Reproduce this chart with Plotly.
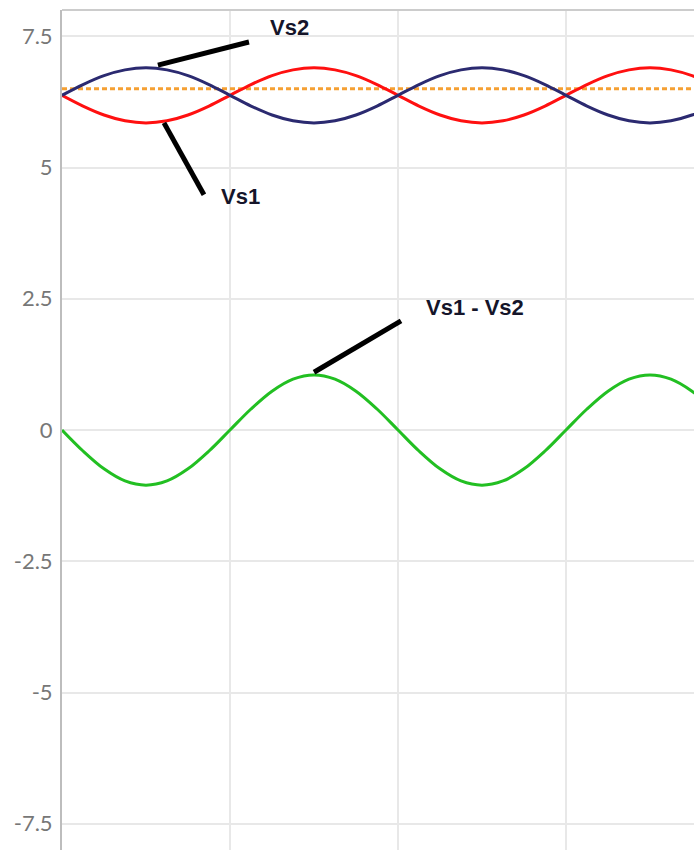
import plotly.graph_objects as go

# x positions (grid units, gridlines every 1)
x_vals = [i * 0.125 for i in range(33)]

vs1 = [6.375, 6.17, 6.00, 5.89, 5.85, 5.89, 6.00, 6.17,
       6.375, 6.58, 6.75, 6.86, 6.90, 6.86, 6.75, 6.58,
       6.375, 6.17, 6.00, 5.89, 5.85, 5.89, 6.00, 6.17,
       6.375, 6.58, 6.75, 6.86, 6.90, 6.86, 6.75, 6.58, 6.375]
vs2 = [6.375, 6.58, 6.75, 6.86, 6.90, 6.86, 6.75, 6.58,
       6.375, 6.17, 6.00, 5.89, 5.85, 5.89, 6.00, 6.17,
       6.375, 6.58, 6.75, 6.86, 6.90, 6.86, 6.75, 6.58,
       6.375, 6.17, 6.00, 5.89, 5.85, 5.89, 6.00, 6.17, 6.375]
diff = [0.0, -0.40, -0.74, -0.97, -1.05, -0.97, -0.74, -0.40,
        0.0, 0.40, 0.74, 0.97, 1.05, 0.97, 0.74, 0.40,
        0.0, -0.40, -0.74, -0.97, -1.05, -0.97, -0.74, -0.40,
        0.0, 0.40, 0.74, 0.97, 1.05, 0.97, 0.74, 0.40, 0.0]
ref_level = 6.5

y_ticks = [-7.5, -5, -2.5, 0, 2.5, 5, 7.5]
y_tick_labels = ["-7.5", "-5", "-2.5", "0", "2.5", "5", "7.5"]

fig = go.Figure()
fig.add_trace(go.Scatter(x=[x_vals[0], x_vals[-1]], y=[ref_level, ref_level], mode="lines",
                         line=dict(color="#f5a033", width=3, dash="5px,3px"), hoverinfo="skip"))
fig.add_trace(go.Scatter(x=x_vals, y=vs1, mode="lines", line=dict(color="#ff1010", width=3, shape="spline")))
fig.add_trace(go.Scatter(x=x_vals, y=vs2, mode="lines", line=dict(color="#2b2a70", width=3, shape="spline")))
fig.add_trace(go.Scatter(x=x_vals, y=diff, mode="lines", line=dict(color="#22bf22", width=3, shape="spline")))

# annotation leader lines
leaders = [
    ((0.571, 6.95), (1.113, 7.39)),
    ((0.607, 5.85), (0.845, 4.48)),
    ((1.50, 1.10), (2.018, 2.08)),
]
for (x0, y0), (x1, y1) in leaders:
    fig.add_shape(type="line", x0=x0, y0=y0, x1=x1, y1=y1, xref="x", yref="y",
                  line=dict(color="#000000", width=5))

labels = [("Vs2", 1.357, 7.66), ("Vs1", 1.06, 4.44), ("Vs1 - Vs2", 2.458, 2.34)]
for txt, lx, ly in labels:
    fig.add_annotation(x=lx, y=ly, text="<b>%s</b>" % txt, showarrow=False,
                       font=dict(family="Liberation Sans, Arial", size=22, color="#15152a"))

# top border
fig.add_shape(type="line", xref="paper", yref="paper", x0=0, x1=1, y0=1, y1=1,
              line=dict(color="#cccccc", width=2))

fig.update_layout(
    width=694, height=850,
    margin=dict(l=62, r=0, t=10, b=0),
    plot_bgcolor="white", paper_bgcolor="white",
    showlegend=False,
    xaxis=dict(range=[0, 632 / 168], dtick=1, tick0=0, showticklabels=False,
               showgrid=True, gridcolor="#e8e8e8", gridwidth=2, zeroline=False,
               showline=False, ticks=""),
    yaxis=dict(range=[-8, 8], tickvals=y_ticks, ticktext=y_tick_labels,
               showgrid=True, gridcolor="#e8e8e8", gridwidth=2, zeroline=False,
               showline=True, linecolor="#bdbdbd", linewidth=2, ticks="",
               ticklabelstandoff=3,
               tickfont=dict(family="Lato", size=22, color="#777777")),
)

fig.write_html("out.html",
               config={"displayModeBar": False},
               post_script="document.body.style.margin='0';document.body.style.overflow='hidden';")
